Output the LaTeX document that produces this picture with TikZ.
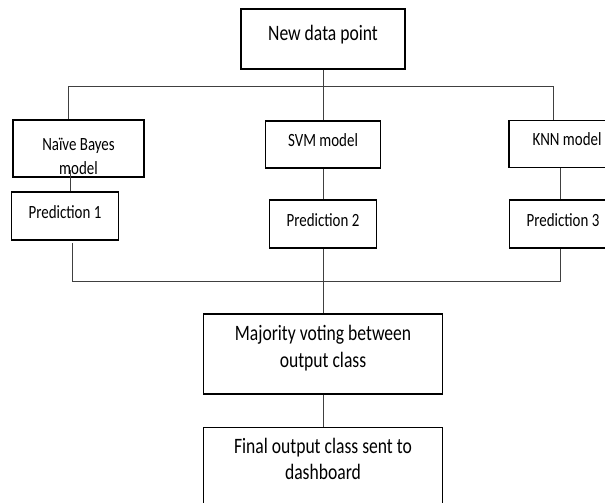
\documentclass[tikz,border=0pt]{standalone}
\usepackage{fontspec}
\setmainfont{Carlito}[FakeStretch=0.8]
\usetikzlibrary{positioning,calc}

\begin{document}
\begin{tikzpicture}[x=0.75pt,y=-0.75pt,node distance=24pt,
    box/.style={draw,line width=1.2pt,align=center,inner sep=2pt},
    bigbox/.style={box,font=\fontsize{16.5}{20}\selectfont,minimum width=179pt},
    smallbox/.style={box,font=\fontsize{14}{18}\selectfont},
    oneline/.style={text height=10pt,text depth=7pt},
    wire/.style={line width=0.6pt,black!75}]
  \path[use as bounding box,clip] (0,0) rectangle (605,502);
  % input and the three classifiers
  \node[bigbox,minimum width=123pt,minimum height=45pt,text height=12pt,text depth=9.5pt] (ndp) at (323,39) {New data point};
  \node[smallbox,minimum width=98pt,minimum height=41pt] (nb) at (78.5,148.5) {\rule{0pt}{21pt}Na\"ive Bayes\\model};
  \node[smallbox,oneline,minimum width=86pt,minimum height=35pt] (svm) at (323,144.5) {SVM model};
  \node[smallbox,oneline,minimum width=87pt,minimum height=35pt] (knn) at (567,144) {KNN model};
  % predictions
  \node[smallbox,oneline,minimum width=80pt,minimum height=36pt] (pred1) at (65,216) {Prediction 1};
  \node[smallbox,oneline,minimum width=80pt,minimum height=36pt,below=23pt of svm] (pred2) {Prediction 2};
  \node[smallbox,oneline,minimum width=80pt,minimum height=36pt] (pred3) at (563,224) {Prediction 3};
  % voting and output
  \node[bigbox,minimum height=60pt,text depth=11pt,below=48pt of pred2] (vote) {Majority voting between\\output class};
  \node[bigbox,inner ysep=8pt,text depth=60pt,below=of vote] (final) {Final output class sent to\\dashboard};
  \coordinate (busL) at (68,86);
  \coordinate (busR) at (553,86);
  \coordinate (joinL) at (72,281);
  \coordinate (joinR) at (560,281);
  \draw[wire] (ndp) -- (svm);
  \draw[wire] (nb.north -| busL) -- (busL) -- (busR) -- (knn.north -| busR);
  \draw[wire] ([xshift=-6pt,yshift=6pt]nb.south) -- ([xshift=-6pt]nb.south |- pred1.north);
  \draw[wire] (knn.south -| joinR) -- (pred3.north -| joinR);
  \draw[wire] (svm) -- (pred2);
  \draw[wire] ([yshift=-2pt]pred1.south -| joinL) -- (joinL) -- (joinR) -- (pred3.south -| joinR);
  \foreach \a/\b in {pred2/vote,vote/final}{\draw[wire] (\a) -- (\b);}
\end{tikzpicture}
\end{document}
